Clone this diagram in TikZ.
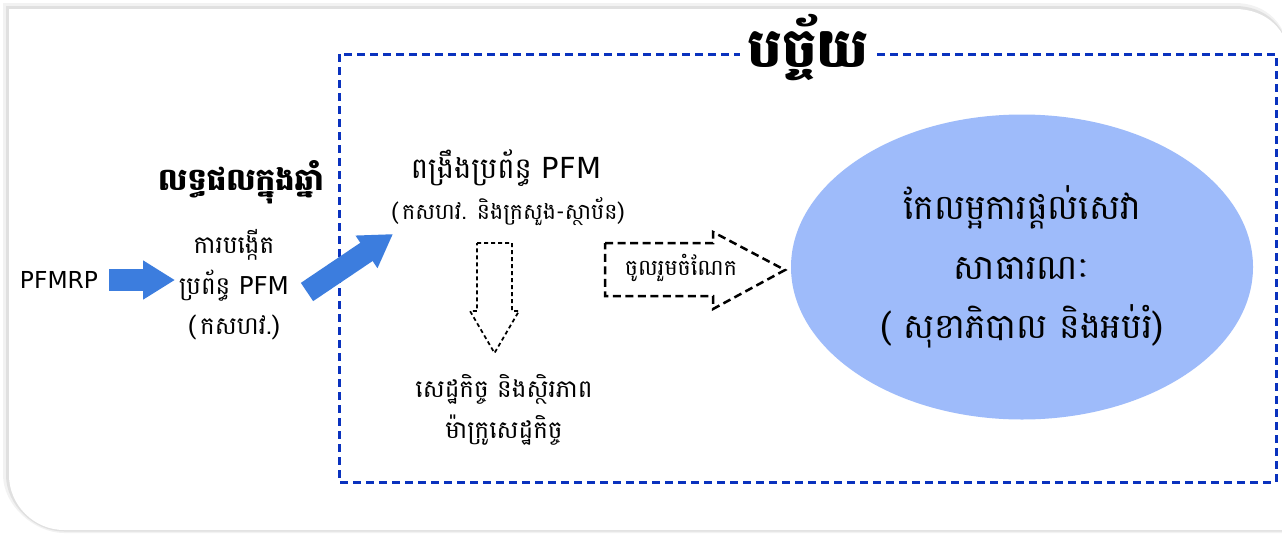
\documentclass[tikz,border=0pt]{standalone}
\usepackage{fontspec}
\usepackage{tikz}
\usetikzlibrary{arrows.meta,shapes.geometric}
\setmainfont[Script=Khmer]{Battambang}
\newfontfamily\latinfont{DejaVu Sans}
\newcommand{\lat}[1]{{\latinfont #1}}
\definecolor{frame_blue}{RGB}{10,50,190}
\definecolor{arrow_blue}{RGB}{60,125,222}
\definecolor{ell_blue}{RGB}{158,187,250}

\begin{document}
\begin{tikzpicture}[x=0.2mm,y=-0.2mm]
    \tikzstyle{txt}=[align=center, inner sep=0pt, font=\fontsize{14}{23}\selectfont]
    \tikzstyle{big}=[align=center, inner sep=0pt, font=\fontsize{16.5}{23}\selectfont]
    \tikzstyle{small}=[align=center, inner sep=0pt, font=\fontsize{12.6}{18}\selectfont]
    \tikzstyle{head}=[inner sep=0pt, font=\bfseries\fontsize{17.5}{20}\selectfont]
    \tikzstyle{title}=[fill=white, inner xsep=4pt, inner ysep=0pt, font=\bfseries\fontsize{31}{34}\selectfont]
    \tikzstyle{goal}=[ellipse, fill=ell_blue, minimum width=92.4mm, minimum height=61mm, inner sep=0pt, align=center, font=\fontsize{19.7}{34}\selectfont]
    \tikzstyle{fat}=[draw=arrow_blue, line width=4.4mm, -{Triangle[length=6.4mm,width=7.4mm]}]
    \tikzstyle{frame}=[draw=frame_blue, line width=0.6mm, dash pattern=on 1.6mm off 1mm]
    \tikzstyle{hollow}=[draw=black, line width=0.35mm, dash pattern=on 0.8mm off 0.6mm]
    \tikzstyle{hollowbold}=[draw=black, line width=0.5mm, dash pattern=on 1.6mm off 0.9mm]

    \useasboundingbox (0,0) rectangle (1282,533);

    % card with soft shadow
    \foreach \d/\s in {6/5,3/12,0/0}
      \fill[black!\s] ({9-\d},{9-\d}) -- (1235,{9-\d}) .. controls (1265,{9-\d}) and (1290,{29-\d}) .. (1290,64)
        -- (1290,{530+\d/2}) -- (64,{530+\d/2}) .. controls (34,{530+\d/2}) and ({9-\d},505) .. ({9-\d},475) -- cycle;

    \draw[frame] (339,54) rectangle (1276,482);
    \node[title] (factor) at (808,48) {បច្ច័យ};

    \node[txt, font=\fontsize{13.3}{23}\selectfont] (pfmrp) at (59,280) {\lat{PFMRP}};
    \node[head] (result) at (241,182) {លទ្ធផលក្នុងឆ្នាំ};
    \node[txt]  (create) at (234,285) {ការបង្កើត\\ប្រព័ន្ធ \lat{PFM}\\(\,កសហវ.)};
    \node[big]  (pfm)    at (506,168) {ពង្រឹងប្រព័ន្ធ \lat{PFM}};
    \node[small] (pfmsub) at (508,212) {(\,កសហវ. និងក្រសួង-ស្ថាប័ន)};
    \node[txt]  (econ)   at (504,410) {សេដ្ឋកិច្ច និងស្ថិរភាព\\ម៉ាក្រូសេដ្ឋកិច្ច};
    \node[small] (share)  at (681,268) {ចូលរួមចំណែក};
    \node[goal] (service) at (1022,267) {កែលម្អការផ្តល់សេវា\\សាធារណៈ\\( សុខាភិបាល និងអប់រំ)};

    \coordinate (tail2) at (307,292);
    \coordinate (tip2)  at (393,234);

    % hollow dashed arrows
    \draw[hollow] (477,243) -- (512,243) -- (512,311) -- (519,311) -- (494.5,353) -- (470,311) -- (477,311) -- cycle;
    \draw[hollowbold] (605,243) -- (713,243) -- (713,232) -- (785,270) -- (713,309) -- (713,296) -- (605,296) -- cycle;

    \path
     (pfmrp.east) edge[fat, shorten <=2.2mm] (pfmrp.east -| 175,0)
     (tail2) edge[fat] (tip2)
     ;
\end{tikzpicture}
\end{document}
